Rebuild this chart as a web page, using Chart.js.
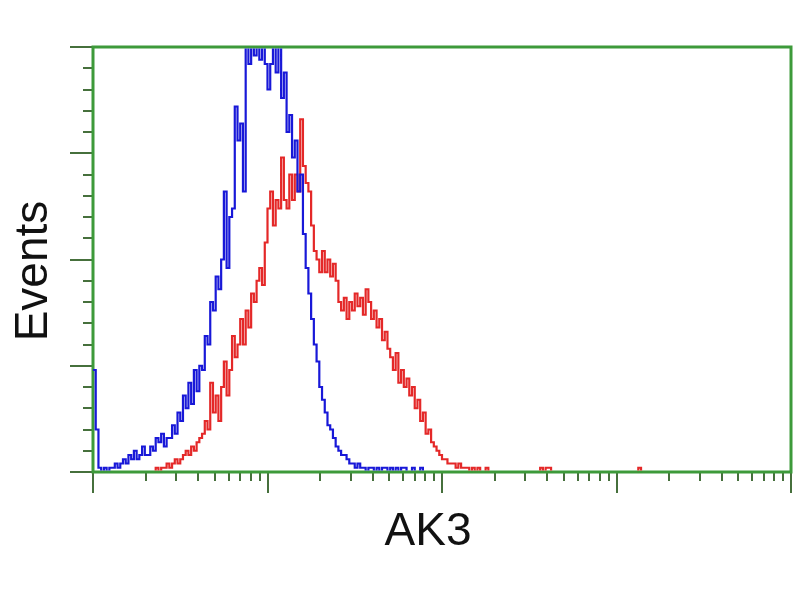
<!DOCTYPE html>
<html><head><meta charset="utf-8">
<script src="https://cdn.jsdelivr.net/npm/chart.js@4/dist/chart.umd.min.js"></script>
<style>html,body{margin:0;padding:0;background:#fff}#wrap{width:800px;height:600px}</style>
</head><body><div id="wrap"><canvas id="c" width="800" height="600"></canvas></div>
<script>
// Histogram bins: 256 channels spanning 4 log decades (64 channels per decade)
const blueCounts = [
  24,10,1,0,1,0,1,1,2,1, 2,3,2,4,3,5,3,4,6,4,
  4,6,5,8,7,9,6,8,8,11, 9,14,12,18,15,21,16,24,19,25,
  24,32,30,40,38,46,43,50,66,48, 60,62,86,78,82,66,100,96,100,98,
  100,97,100,96,90,96,100,94,100,88, 94,80,84,74,78,66,70,56,48,42,
  36,30,26,20,17,14,11,10,8,6, 5,4,4,3,2,2,1,2,1,1,
  0,1,1,0,1,0,1,1,0,1, 0,1,0,1,1,0,0,1,0,0,
  1,0,0,0,0,0,0,0,0,0, 0,0,0,0,0,0,0,0,0,0,
  0,0,0,0,0,0,0,0,0,0, 0,0,0,0,0,0,0,0,0,0,
  0,0,0,0,0,0,0,0,0,0, 0,0,0,0,0,0,0,0,0,0,
  0,0,0,0,0,0,0,0,0,0, 0,0,0,0,0,0,0,0,0,0,
  0,0,0,0,0,0,0,0,0,0, 0,0,0,0,0,0,0,0,0,0,
  0,0,0,0,0,0,0,0,0,0, 0,0,0,0,0,0,0,0,0,0,
  0,0,0,0,0,0,0,0,0,0, 0,0,0,0,0,0
];
const redCounts = [
  0,0,0,0,0,0,0,0,0,0, 0,0,0,0,0,0,0,0,0,0,
  0,0,0,1,0,1,1,2,1,2, 3,2,3,4,5,4,6,5,7,8,
  9,12,10,21,14,18,12,20,26,18, 24,32,27,30,36,30,38,34,42,40,
  45,48,44,54,62,66,58,64,62,74, 64,62,70,64,70,66,83,72,68,66,
  58,52,50,47,52,47,50,46,49,45, 40,38,41,36,40,38,42,39,41,37,
  43,40,36,38,34,36,31,33,29,27, 24,28,21,24,20,22,18,20,15,17,
  12,14,9,10,7,6,5,4,3,3, 2,2,2,1,2,1,1,1,0,1,
  0,1,0,0,1,0,0,0,0,0, 0,0,0,0,0,0,0,0,0,0,
  0,0,0,0,1,0,1,1,0,0, 0,0,0,0,0,0,0,0,0,0,
  0,0,0,0,0,0,0,0,0,0, 0,0,0,0,0,0,0,0,0,0,
  1,0,0,0,0,0,0,0,0,0, 0,0,0,0,0,0,0,0,0,0,
  0,0,0,0,0,0,0,0,0,0, 0,0,0,0,0,0,0,0,0,0,
  0,0,0,0,0,0,0,0,0,0, 0,0,0,0,0,0
];
const channelsPerDecade = 64;
const xDecadeTicks = [0, 64, 128, 192, 256];
const xMinorFactors = [2, 3, 4, 5, 6, 7, 8, 9];
const yMajorTicks = [0, 25, 50, 75, 100];
const yMinorTicks = [5,10,15,20, 30,35,40,45, 55,60,65,70, 80,85,90,95];
const xTitle = 'AK3';
const yTitle = 'Events';

function toPoints(counts) {
  const pts = counts.map((v, i) => ({x: i, y: v}));
  pts.push({x: counts.length, y: counts[counts.length - 1]});
  return pts;
}

const framePlugin = {
  id: 'frame',
  beforeDatasetsDraw(chart) {
    const {ctx, chartArea: a, scales: {x, y}} = chart;
    ctx.save();
    ctx.lineCap = 'butt';
    const seg = (x1, y1, x2, y2) => { ctx.beginPath(); ctx.moveTo(x1, y1); ctx.lineTo(x2, y2); ctx.stroke(); };
    ctx.strokeStyle = '#46703c';
    ctx.lineWidth = 2;
    yMajorTicks.forEach(v => { const p = Math.round(y.getPixelForValue(v)); seg(a.left - 23, p, a.left, p); });
    yMinorTicks.forEach(v => { const p = Math.round(y.getPixelForValue(v)); seg(a.left - 10, p, a.left, p); });
    xDecadeTicks.forEach(v => { const p = Math.round(x.getPixelForValue(v)); seg(p, a.bottom, p, a.bottom + 21); });
    for (let d = 0; d < 4; d++) {
      xMinorFactors.forEach(k => {
        const v = xDecadeTicks[d] + channelsPerDecade * Math.log10(k);
        const p = Math.round(x.getPixelForValue(v));
        seg(p, a.bottom, p, a.bottom + 9);
      });
    }
    ctx.strokeStyle = '#3d9a3a';
    ctx.lineWidth = 3;
    ctx.strokeRect(a.left, a.top, a.right - a.left, a.bottom - a.top);
    ctx.restore();
  },
  afterDraw(chart) {
    const {ctx} = chart;
    ctx.save();
    ctx.fillStyle = '#111';
    ctx.font = '46px "Liberation Sans", Arial, sans-serif';
    ctx.textAlign = 'center';
    ctx.textBaseline = 'middle';
    ctx.fillText(xTitle, 428, 532);
    ctx.translate(32, 271);
    ctx.rotate(-Math.PI / 2);
    ctx.fillText(yTitle, 0, 2);
    ctx.restore();
  }
};

const lineClip = {left: 3, top: -1.5, right: 0, bottom: -1.5};

new Chart(document.getElementById('c'), {
  type: 'line',
  data: {
    datasets: [
      {label: 'Sample', data: toPoints(blueCounts), borderColor: '#1818d8', borderWidth: 2.2, stepped: 'before', pointRadius: 0, fill: false, clip: lineClip},
      {label: 'Control', data: toPoints(redCounts), borderColor: '#e42828', borderWidth: 2.2, stepped: 'before', pointRadius: 0, fill: false, clip: lineClip}
    ]
  },
  options: {
    responsive: false,
    animation: false,
    devicePixelRatio: 1,
    layout: {padding: {left: 93, right: 9, top: 47, bottom: 128}},
    plugins: {legend: {display: false}, tooltip: {enabled: false}},
    scales: {
      x: {type: 'linear', min: 0, max: 256, display: false},
      y: {type: 'linear', min: 0, max: 100, display: false}
    }
  },
  plugins: [framePlugin]
});
</script>
</body></html>
